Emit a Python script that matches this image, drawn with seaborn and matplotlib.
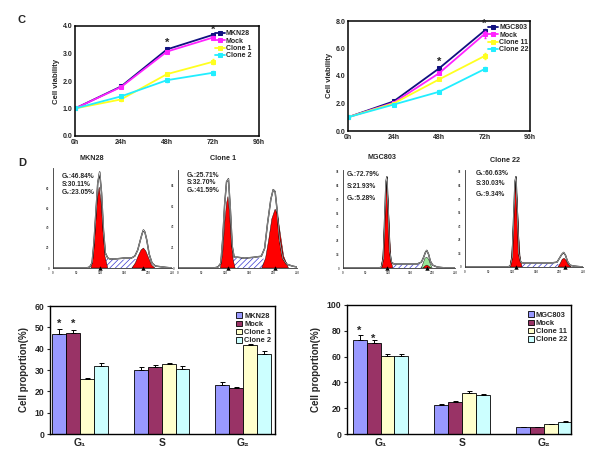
import numpy as np
import pandas as pd
import matplotlib
matplotlib.use("Agg")
import matplotlib.pyplot as plt
import seaborn as sns

sns.set_style("white")
plt.rcParams['font.family'] = ['Liberation Sans', 'DejaVu Sans']
plt.rcParams['font.weight'] = 'bold'
plt.rcParams['axes.labelweight'] = 'bold'
plt.rcParams['hatch.linewidth'] = 0.5

# ---------------- Panel C data ----------------
hours = [0, 24, 48, 72]
hour_ticks = [0, 24, 48, 72, 96]
hour_labels = ['0h', '24h', '48h', '72h', '96h']

mkn_names = ['MKN28', 'Mock', 'Clone 1', 'Clone 2']
via_mkn28 = [1.00, 1.80, 3.15, 3.68]
via_mkn_mock = [1.00, 1.78, 3.07, 3.58]
via_clone1 = [1.00, 1.33, 2.25, 2.70]
via_clone2 = [1.00, 1.44, 2.03, 2.30]
err_mkn28 = [0.02, 0.03, 0.03, 0.03]
err_mkn_mock = [0.02, 0.03, 0.03, 0.05]
err_clone1 = [0.02, 0.04, 0.04, 0.10]
err_clone2 = [0.02, 0.05, 0.05, 0.08]
star_hours = [48, 72]
star_mkn = [3.38, 3.86]

mgc_names = ['MGC803', 'Mock', 'Clone 11', 'Clone 22']
via_mgc803 = [1.00, 2.15, 4.55, 7.30]
via_mgc_mock = [1.00, 2.05, 4.20, 7.05]
via_clone11 = [1.00, 2.00, 3.75, 5.45]
via_clone22 = [1.00, 1.92, 2.85, 4.50]
err_mgc803 = [0.05, 0.05, 0.05, 0.10]
err_mgc_mock = [0.05, 0.05, 0.08, 0.25]
err_clone11 = [0.05, 0.05, 0.05, 0.20]
err_clone22 = [0.05, 0.05, 0.10, 0.12]
star_mgc = [5.0, 7.8]

line_colors = ['#101080', '#ff22ff', '#ffff20', '#22eeff']

# ---------------- Panel D histogram data ----------------
hist_ticks = [0, 50, 100, 150, 200, 250]

h1_title = 'MKN28'
h1_text = ['G\u2081:46.84%', 'S:30.11%', 'G\u2082:23.05%']
h1_out_x = [0, 70, 77, 82, 86, 90, 94, 98, 102, 106, 110, 115, 120, 130, 150, 165, 172, 178, 183, 187, 190, 193, 197, 202, 208, 215, 230, 250]
h1_out_y = [0, 0, 1, 5, 25, 55, 85, 96, 75, 38, 15, 10, 9, 9, 10, 10, 12, 18, 27, 34, 38, 36, 28, 14, 5, 2, 1, 0]
h1_s_x = [102, 108, 120, 140, 160, 175, 185, 185, 102]
h1_s_y = [0, 9, 9, 8, 9, 9, 5, 0, 0]
h1_g1_x = [80, 85, 89, 93, 97, 101, 105, 109, 115]
h1_g1_y = [0, 12, 40, 68, 81, 66, 38, 12, 0]
h1_g2_x = [166, 173, 179, 185, 190, 195, 201, 207, 214]
h1_g2_y = [0, 5, 12, 18, 20, 17, 10, 3, 0]
h1_peaks = [98, 190]

h2_title = 'Clone 1'
h2_text = ['G\u2081:25.71%', 'S:32.70%', 'G\u2082:41.59%']
h2_out_x = [0, 75, 84, 90, 94, 98, 102, 106, 110, 114, 118, 125, 140, 160, 175, 182, 188, 195, 200, 204, 208, 213, 220, 228, 240, 250]
h2_out_y = [0, 0, 1, 5, 30, 65, 88, 91, 60, 22, 11, 11, 10, 11, 12, 20, 45, 70, 80, 78, 60, 30, 10, 4, 2, 1]
h2_s_x = [108, 115, 140, 165, 185, 185, 108]
h2_s_y = [0, 11, 10, 11, 9, 0, 0]
h2_g1_x = [89, 94, 98, 102, 105, 108, 112, 116, 120]
h2_g1_y = [0, 15, 45, 66, 73, 57, 27, 8, 0]
h2_g2_x = [176, 184, 191, 197, 204, 209, 215, 222, 232]
h2_g2_y = [0, 10, 30, 50, 60, 55, 35, 12, 0]
h2_peaks = [105, 204]

h3_title = 'MGC803'
h3_text = ['G\u2081:72.79%', 'S:21.93%', 'G\u2082:5.28%']
h3_out_x = [0, 80, 86, 90, 93, 96, 98, 101, 104, 108, 114, 140, 165, 175, 180, 184, 187, 191, 195, 200, 210, 230, 250]
h3_out_y = [0, 0, 1, 10, 50, 88, 93, 58, 18, 6, 4, 4, 4, 6, 11, 16, 18, 14, 7, 3, 1, 0, 0]
h3_s_x = [103, 110, 140, 170, 180, 180, 103]
h3_s_y = [0, 4, 3.5, 4, 3, 0, 0]
h3_g1_x = [85, 89, 92, 95, 98, 101, 104, 107, 111]
h3_g1_y = [0, 12, 42, 72, 90, 68, 36, 9, 0]
h3_green_x = [175, 179, 183, 187, 191, 195, 199]
h3_green_y = [0, 5, 10, 11, 9, 4, 0]
h3_g2_x = [179, 183, 187, 191, 196]
h3_g2_y = [0, 2, 3, 2, 0]
h3_peaks = [98, 187]

h4_title = 'Clone 22'
h4_text = ['G\u2081:60.63%', 'S:30.03%', 'G\u2082:9.34%']
h4_out_x = [0, 90, 96, 100, 103, 106, 108, 111, 114, 118, 124, 150, 180, 195, 200, 205, 209, 213, 217, 222, 230, 250]
h4_out_y = [0, 0, 1, 10, 50, 88, 93, 55, 14, 5, 4, 4, 4, 5, 9, 13, 15, 12, 6, 2, 1, 0]
h4_s_x = [113, 120, 150, 180, 200, 200, 113]
h4_s_y = [0, 4, 4, 4, 3, 0, 0]
h4_g1_x = [95, 99, 102, 105, 108, 111, 114, 117, 121]
h4_g1_y = [0, 12, 42, 72, 91, 66, 32, 9, 0]
h4_g2_x = [197, 202, 206, 210, 214, 218, 225]
h4_g2_y = [0, 4, 8, 9, 7, 3, 0]
h4_peaks = [108, 211]

# ---------------- Bar chart data ----------------
phases = ['G\u2081', 'S', 'G\u2082']
bar_colors = ['#9999ff', '#993366', '#ffffcc', '#ccffff']

bar_mkn28 = [47.0, 30.2, 23.1]
bar_mkn_mock = [47.5, 31.4, 21.6]
bar_clone1 = [25.8, 32.8, 41.6]
bar_clone2 = [32.0, 30.7, 37.6]
berr_mkn28 = [2.2, 1.3, 1.2]
berr_mkn_mock = [1.2, 0.9, 0.5]
berr_clone1 = [0.4, 0.5, 0.7]
berr_clone2 = [1.1, 1.1, 1.5]
bstar_mkn = [51.5, 51.5]

bar_mgc803 = [72.9, 22.3, 5.5]
bar_mgc_mock = [70.5, 24.5, 5.3]
bar_clone11 = [60.5, 32.0, 7.5]
bar_clone22 = [60.5, 30.0, 9.2]
berr_mgc803 = [3.5, 0.8, 0.3]
berr_mgc_mock = [2.5, 0.8, 0.3]
berr_clone11 = [1.5, 1.2, 0.5]
berr_clone22 = [1.5, 0.8, 0.6]
bstar_mgc = [80.0, 73.5]

# ---------------- Figure ----------------
W, H = 600, 450
fig = plt.figure(figsize=(6, 4.5), dpi=100)
fig.patch.set_facecolor('white')


def place(l, t, r, b):
    return fig.add_axes([l / W, 1 - b / H, (r - l) / W, (b - t) / H])


def embolden(ax):
    for lab in ax.get_xticklabels() + ax.get_yticklabels():
        lab.set_fontweight('bold')


def line_panel(ax, names, series, errs, stars, ymax, ystep, leg_anchor):
    for name, vals, err, col in zip(names, series, errs, line_colors):
        sns.lineplot(x=hours, y=vals, color=col, marker='s', markersize=3,
                     markeredgecolor=col, linewidth=1.3, label=name, ax=ax)
        ax.errorbar(hours, vals, yerr=err, fmt='none', ecolor=col,
                    elinewidth=0.8, capsize=1)
    for hx, sy in zip(star_hours, stars):
        ax.text(hx, sy, '*', ha='center', va='center', fontsize=8)
    ax.set_xlim(0, 96)
    ax.set_ylim(0, ymax)
    ax.set_xticks(hour_ticks)
    ax.set_xticklabels(hour_labels)
    yt = np.arange(0, ymax + 0.01, ystep)
    ax.set_yticks(yt)
    ax.set_yticklabels(['%.1f' % v for v in yt])
    ax.tick_params(direction='in', length=2.5, width=0.8, labelsize=5, pad=2)
    embolden(ax)
    ax.set_xlabel('')
    ax.set_ylabel('Cell viability', fontsize=5.6, labelpad=2, fontweight='bold')
    for sp in ax.spines.values():
        sp.set_linewidth(1.1)
        sp.set_color('black')
    leg = ax.legend(loc='upper left', bbox_to_anchor=leg_anchor, frameon=False,
                    fontsize=5, handlelength=1.4, labelspacing=0.05,
                    handletextpad=0.2, borderaxespad=0, borderpad=0)
    for t in leg.get_texts():
        t.set_fontweight('bold')


axC1 = place(75, 26, 259, 136)
line_panel(axC1, mkn_names, [via_mkn28, via_mkn_mock, via_clone1, via_clone2],
           [err_mkn28, err_mkn_mock, err_clone1, err_clone2], star_mkn, 4.0, 1.0,
           (0.76, 0.96))
axC2 = place(348, 21, 530, 131)
line_panel(axC2, mgc_names, [via_mgc803, via_mgc_mock, via_clone11, via_clone22],
           [err_mgc803, err_mgc_mock, err_clone11, err_clone22], star_mgc, 8.0, 2.0,
           (0.77, 0.97))

fig.text(21 / W, 1 - 20 / H, 'C', fontsize=8, ha='center', va='center', fontweight='bold')
fig.text(22 / W, 1 - 163 / H, 'D', fontsize=8, ha='center', va='center', fontweight='bold')


def hist_panel(ax, title, title_pos, texts, text_x, text_ys, out_x, out_y,
               s_x, s_y, g1_x, g1_y, g2_x, g2_y, peaks, green=None, ystep=20):
    ax.fill(s_x, s_y, facecolor='white', edgecolor='#3a3ad0', hatch='//////', lw=0)
    if green is not None:
        ax.fill(green[0], green[1], facecolor='#99e699', edgecolor='black', lw=0.3)
    ax.fill(g1_x, g1_y, facecolor='#ff0000', edgecolor='black', lw=0.3)
    ax.fill(g2_x, g2_y, facecolor='#ff0000', edgecolor='black', lw=0.3)
    ax.plot(out_x, out_y, color='black', lw=1.0)
    ax.plot(out_x, out_y, color='white', lw=0.35)
    sns.scatterplot(x=peaks, y=[0] * len(peaks), marker='^', color='black',
                    s=10, ax=ax, zorder=5, clip_on=False, linewidth=0)
    ax.set_xlim(0, 250)
    ax.set_ylim(0, 100)
    ax.set_xticks(hist_ticks)
    ax.set_xticks(np.arange(0, 251, 10), minor=True)
    ax.set_yticks(np.arange(0, 100, ystep))
    ax.set_xticklabels([str(v) for v in hist_ticks])
    ax.set_yticklabels([str(v) for v in np.arange(0, 100, ystep)])
    ax.tick_params(which='both', direction='out', length=1.5, width=0.4,
                   labelsize=2.2, pad=1, colors='#555555')
    ax.tick_params(which='minor', length=0.8)
    for side in ['top', 'right']:
        ax.spines[side].set_visible(False)
    for side in ['left', 'bottom']:
        ax.spines[side].set_linewidth(0.6)
        ax.spines[side].set_color('#333333')
    ax.text(title_pos[0], title_pos[1], title, transform=ax.transAxes,
            ha='center', va='center', fontsize=5.2, fontweight='bold')
    for t, ty in zip(texts, text_ys):
        ax.text(text_x, ty, t, transform=ax.transAxes, ha='left', va='center',
                fontsize=4.8, fontweight='bold')


axH1 = place(53, 168, 172, 268)
hist_panel(axH1, h1_title, (0.33, 1.10), h1_text, 0.07, [0.91, 0.84, 0.76],
           h1_out_x, h1_out_y, h1_s_x, h1_s_y, h1_g1_x, h1_g1_y, h1_g2_x, h1_g2_y,
           h1_peaks, ystep=20)
axH2 = place(178, 170, 297, 268)
hist_panel(axH2, h2_title, (0.38, 1.12), h2_text, 0.07, [0.94, 0.87, 0.79],
           h2_out_x, h2_out_y, h2_s_x, h2_s_y, h2_g1_x, h2_g1_y, h2_g2_x, h2_g2_y,
           h2_peaks, ystep=21)
axH3 = place(343, 170, 455, 268)
hist_panel(axH3, h3_title, (0.35, 1.13), h3_text, 0.03, [0.95, 0.83, 0.71],
           h3_out_x, h3_out_y, h3_s_x, h3_s_y, h3_g1_x, h3_g1_y, h3_g2_x, h3_g2_y,
           h3_peaks, green=(h3_green_x, h3_green_y), ystep=14)
axH4 = place(465, 170, 583, 267)
hist_panel(axH4, h4_title, (0.34, 1.10), h4_text, 0.09, [0.96, 0.86, 0.75],
           h4_out_x, h4_out_y, h4_s_x, h4_s_y, h4_g1_x, h4_g1_y, h4_g2_x, h4_g2_y,
           h4_peaks, ystep=14)


def bar_panel(ax, names, series, errs, stars, ymax, ystep, xlim):
    rows = []
    for name, vals in zip(names, series):
        for ph, v in zip(phases, vals):
            rows.append({'phase': ph, 'value': v, 'group': name})
    df = pd.DataFrame(rows)
    sns.barplot(data=df, x='phase', y='value', hue='group', order=phases,
                hue_order=names, palette=bar_colors, width=0.68, saturation=1,
                edgecolor='black', linewidth=0.6, errorbar=None, ax=ax)
    centers_g1 = []
    for cont, err in zip(ax.containers, errs):
        xs = [p.get_x() + p.get_width() / 2 for p in cont]
        hs = [p.get_height() for p in cont]
        centers_g1.append(xs[0])
        ax.errorbar(xs, hs, yerr=[[0] * len(err), err], fmt='none',
                    ecolor='black', elinewidth=0.7, capsize=1.8, capthick=0.7)
    for cx, sy in zip(centers_g1[:2], stars):
        ax.text(cx, sy, '*', ha='center', va='center', fontsize=8)
    ax.set_xlim(*xlim)
    ax.set_ylim(0, ymax)
    ax.set_yticks(np.arange(0, ymax + 0.1, ystep))
    ax.set_xticks([0.5, 1.5], minor=True)
    ax.tick_params(axis='x', which='major', length=0, labelsize=7.5, pad=3)
    ax.tick_params(axis='x', which='minor', length=2.5, width=0.8, direction='out')
    ax.tick_params(axis='y', length=2.5, width=0.8, direction='out',
                   labelsize=6.2, pad=1.5, left=True)
    embolden(ax)
    ax.set_xlabel('')
    ax.set_ylabel('Cell proportion(%)', fontsize=7, labelpad=4, fontweight='bold')
    for sp in ax.spines.values():
        sp.set_linewidth(1.0)
        sp.set_color('black')
    leg = ax.legend(loc='upper right', bbox_to_anchor=(1.0, 0.98), frameon=False,
                    fontsize=5.4, handlelength=0.75, handleheight=0.75,
                    labelspacing=0.12, handletextpad=0.3, borderaxespad=0.3,
                    borderpad=0.2)
    for t in leg.get_texts():
        t.set_fontweight('bold')


axB1 = place(50, 306, 275, 434)
bar_panel(axB1, mkn_names, [bar_mkn28, bar_mkn_mock, bar_clone1, bar_clone2],
          [berr_mkn28, berr_mkn_mock, berr_clone1, berr_clone2], bstar_mkn,
          60, 10, (-0.37, 2.39))
axB2 = place(347, 305, 571, 434)
bar_panel(axB2, mgc_names, [bar_mgc803, bar_mgc_mock, bar_clone11, bar_clone22],
          [berr_mgc803, berr_mgc_mock, berr_clone11, berr_clone22], bstar_mgc,
          100, 20, (-0.41, 2.33))

fig.savefig('out.png', dpi=100, facecolor='white')
